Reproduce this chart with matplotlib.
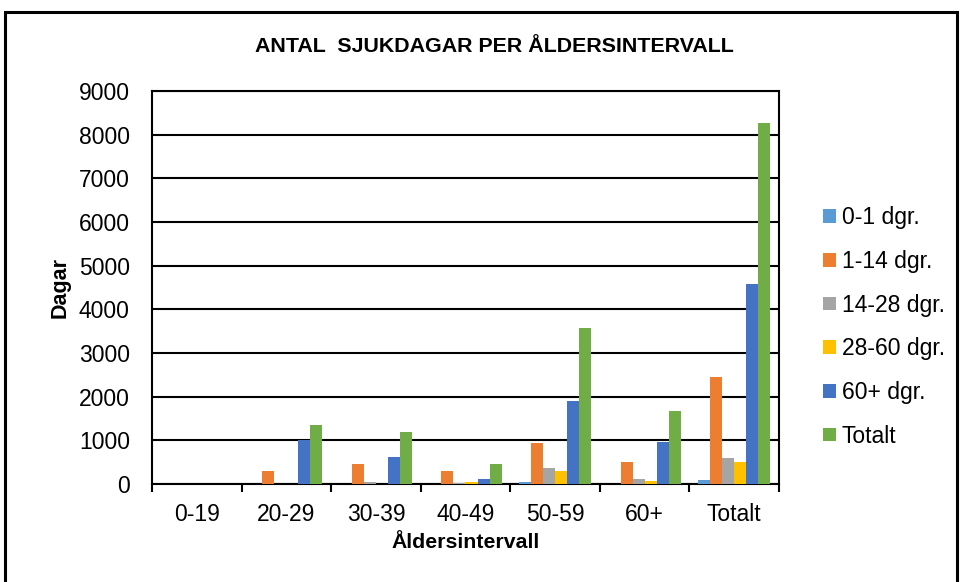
import matplotlib
matplotlib.use("Agg")
import matplotlib.pyplot as plt
import numpy as np
from matplotlib.patches import Rectangle

plt.rcParams['font.family'] = ['Liberation Sans', 'DejaVu Sans']

categories = ["0-19", "20-29", "30-39", "40-49", "50-59", "60+", "Totalt"]
series_names = ["0-1 dgr.", "1-14 dgr.", "14-28 dgr.", "28-60 dgr.", "60+ dgr.", "Totalt"]
v_0_1 = [0, 0, 0, 10, 40, 0, 90]
v_1_14 = [0, 300, 450, 290, 930, 510, 2450]
v_14_28 = [0, 0, 40, 20, 375, 120, 600]
v_28_60 = [0, 0, 0, 50, 305, 60, 510]
v_60p = [0, 1000, 620, 110, 1910, 955, 4580]
v_tot = [0, 1350, 1180, 460, 3580, 1680, 8265]
values = [v_0_1, v_1_14, v_14_28, v_28_60, v_60p, v_tot]
colors = ["#5B9BD5", "#ED7D31", "#A5A5A5", "#FFC000", "#4472C4", "#70AD47"]
y_ticks = [0, 1000, 2000, 3000, 4000, 5000, 6000, 7000, 8000, 9000]

fig = plt.figure(figsize=(9.62, 5.82), dpi=100)
ax = fig.add_axes([152/962, 1-484/582, (779-152)/962, (484-91)/582])

x = np.arange(len(categories))
n = len(values)
bw = 0.134
for i, (vals, c, name) in enumerate(zip(values, colors, series_names)):
    off = (i - (n-1)/2) * bw
    ax.bar(x + off, vals, width=bw, color=c, label=name, zorder=3)

ax.set_xlim(-0.5, len(categories)-0.5)
ax.set_ylim(0, 9000)
ax.set_yticks(y_ticks)
ax.set_yticklabels([str(t) for t in y_ticks], fontsize=16.5)
ax.set_xticks(x)
ax.set_xticklabels(categories, fontsize=16.5)
ax.set_xticks(np.arange(-0.5, len(categories), 1.0), minor=True)
ax.tick_params(axis='x', which='major', length=0, pad=14)
ax.tick_params(axis='x', which='minor', length=6, width=1.5, direction='out')
ax.tick_params(axis='y', length=0, pad=16)
ax.grid(axis='y', color='black', linewidth=1.5, zorder=1)
for s in ax.spines.values():
    s.set_color('black')
    s.set_linewidth(1.5)
ax.set_axisbelow(True)

ax.set_ylabel("Dagar", fontsize=15.5, fontweight='bold', labelpad=6)
ax.set_xlabel("Åldersintervall", fontsize=15.3, fontweight='bold', labelpad=5)
fig.text((258+730)/2/962, 1-46/582, "ANTAL  SJUKDAGAR PER ÅLDERSINTERVALL",
         fontsize=15.4, fontweight='bold', ha='center', va='center')

leg = fig.legend(loc='center left', bbox_to_anchor=(812/962, 1-327/582), frameon=False,
                 fontsize=16.5, handlelength=0.55, handleheight=0.55, handletextpad=0.25,
                 labelspacing=0.9, borderpad=0)

fig.patches.append(Rectangle((5/962, -0.1), (957-5)/962, (1-12/582)+0.1,
                             transform=fig.transFigure, fill=False,
                             edgecolor='black', linewidth=2.2))

fig.savefig("out.png", dpi=100)
